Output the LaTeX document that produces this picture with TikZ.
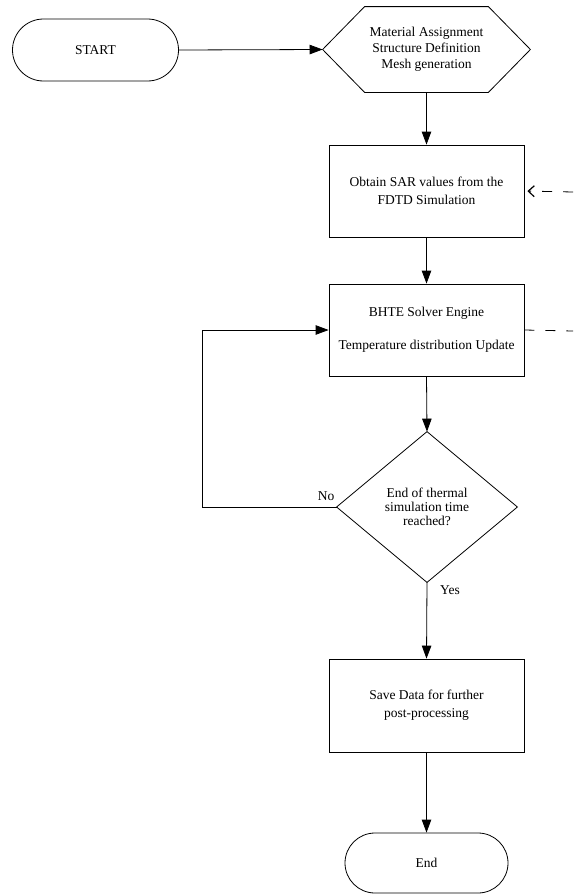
\documentclass[tikz,border=0pt]{standalone}
\usepackage{fontspec}
\setmainfont{Liberation Serif}
\usetikzlibrary{shapes.misc,arrows.meta,calc}
\begin{document}
\begin{tikzpicture}[x=1pt,y=-1pt,
  line width=0.8pt,
  every node/.style={font=\fontsize{13.5}{16}\selectfont, align=center, inner sep=0pt},
  pill/.style={rounded rectangle, draw, minimum width=166pt, minimum height=62pt},
  procbox/.style={rectangle, draw, minimum width=195pt, minimum height=92pt},
  ghost/.style={rectangle, draw=none},
  flow/.style={-{Triangle[length=13pt,width=9.5pt]}},
  dashline/.style={dash pattern=on 10pt off 11pt}
]
\useasboundingbox (0,0) rectangle (573,894);

\node[pill] (start) at (95.5,50) {START};
\node[ghost, minimum width=207pt, minimum height=85pt] (hex) at (426.5,49.5) {Material Assignment\\Structure Definition\\Mesh generation};
\draw (hex.west) -- ([xshift=42pt]hex.north west) -- ([xshift=-42pt]hex.north east) -- (hex.east)
  -- ([xshift=-42pt]hex.south east) -- ([xshift=42pt]hex.south west) -- cycle;

\node[procbox, font=\fontsize{13.5}{17.5}\selectfont] (sar) at (426.5,191) {Obtain SAR values from the\\FDTD Simulation};
\node[procbox] (bhte) at (426.5,330) {BHTE Solver Engine\\[17pt]Temperature distribution Update};

\node[ghost, minimum width=180pt, minimum height=150pt, font=\fontsize{13.5}{14}\selectfont] (dec) at (427,507) {End of thermal\\simulation time\\reached?};
\draw (dec.north) -- (dec.east) -- (dec.south) -- (dec.west) -- cycle;

\node[procbox, minimum height=93pt, font=\fontsize{13.5}{18}\selectfont] (save) at (426.5,705.5) {Save Data for further\\post-processing};
\node[pill, minimum height=60pt, minimum width=163pt] (end) at (426.5,863) {End};

\coordinate (loopx) at (202,331);
\coordinate (rin) at (573,192);
\coordinate (rout) at (573,331);

\draw[flow] (start.east) -- (hex.west);
\draw[flow] (hex.south) -- (sar.north);
\draw[flow] (sar.south) -- (bhte.north);
\draw[flow] (bhte.south) -- (dec.north);
\draw[flow] (dec.west) -- (dec.west -| loopx) |- (bhte.west);
\draw[flow] (dec.south) -- (save.north);
\draw[flow] (save.south) -- (end.north);

\draw[dashline, -{Straight Barb[length=6pt,width=11pt,line width=1.2pt]}, shorten >=3pt] (rin) -- (sar.east);
\draw[dashline] (bhte.east) -- (rout);

\node (no) at (326,496) {No};
\node (yes) at (450,590) {Yes};
\end{tikzpicture}
\end{document}
